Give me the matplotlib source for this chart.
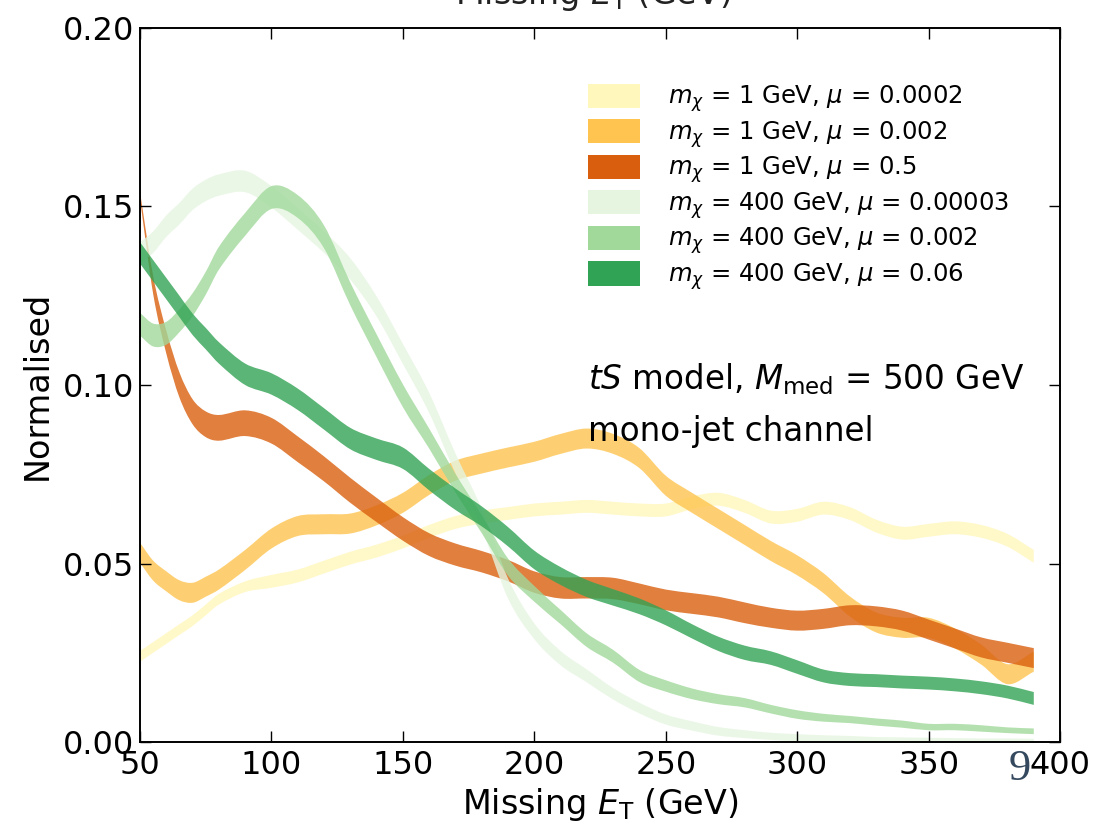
import matplotlib
matplotlib.use("Agg")
import matplotlib.pyplot as plt
from matplotlib.patches import Patch, PathPatch
from matplotlib.path import Path
import numpy as np

# Missing transverse energy bin centres (GeV)
met = [50, 55, 60, 65, 70, 75, 80, 90, 100, 110, 120, 130, 140, 150, 160, 170,
       180, 190, 200, 210, 220, 230, 240, 250, 260, 270, 280, 290, 300, 310,
       320, 330, 340, 350, 360, 370, 380, 390]

# Normalised distributions (band centres)
m1_mu0p0002 = [0.024, 0.0265, 0.029, 0.0315, 0.034, 0.037, 0.040, 0.0435, 0.045, 0.0465,
               0.049, 0.0515, 0.0535, 0.056, 0.059, 0.0615, 0.063, 0.064, 0.065, 0.0655,
               0.066, 0.0655, 0.065, 0.065, 0.067, 0.068, 0.066, 0.063, 0.0635, 0.0655,
               0.064, 0.0605, 0.0585, 0.0593, 0.060, 0.059, 0.0565, 0.052]
m1_mu0p002 = [0.053, 0.048, 0.045, 0.0425, 0.0418, 0.0435, 0.0455, 0.051, 0.057, 0.0605,
              0.061, 0.0612, 0.0635, 0.067, 0.072, 0.076, 0.078, 0.0797, 0.0813, 0.0835,
              0.085, 0.0835, 0.0795, 0.0718, 0.067, 0.0625, 0.058, 0.0535, 0.0495, 0.0445,
              0.038, 0.0335, 0.032, 0.032, 0.029, 0.0245, 0.019, 0.0225]
m1_mu0p5 = [0.153, 0.128, 0.112, 0.100, 0.0925, 0.089, 0.088, 0.0893, 0.0872, 0.082,
            0.0765, 0.0705, 0.065, 0.0597, 0.0553, 0.0525, 0.0505, 0.048, 0.0448, 0.0432,
            0.0432, 0.043, 0.0415, 0.0398, 0.0388, 0.0378, 0.0362, 0.0348, 0.034, 0.0345,
            0.0355, 0.0352, 0.034, 0.0315, 0.029, 0.0265, 0.025, 0.0235]
m400_mu0p00003 = [0.137, 0.140, 0.1445, 0.148, 0.152, 0.1545, 0.156, 0.157, 0.1527, 0.1465,
                  0.140, 0.1325, 0.122, 0.1087, 0.095, 0.078, 0.0625, 0.043, 0.031, 0.0235,
                  0.0185, 0.0135, 0.0095, 0.0063, 0.0045, 0.003, 0.0022, 0.0016, 0.0012, 0.001,
                  0.0008, 0.0006, 0.0005, 0.0004, 0.0003, 0.0002, 0.0002, 0.0001]
m400_mu0p002 = [0.117, 0.114, 0.1145, 0.118, 0.1225, 0.1285, 0.1355, 0.145, 0.1525, 0.150,
                0.1415, 0.1255, 0.111, 0.097, 0.085, 0.0725, 0.061, 0.049, 0.0415, 0.035,
                0.0285, 0.024, 0.0185, 0.0157, 0.0135, 0.012, 0.011, 0.0092, 0.0077, 0.0068,
                0.0063, 0.0056, 0.005, 0.0042, 0.0042, 0.0038, 0.0033, 0.003]
m400_mu0p06 = [0.137, 0.132, 0.127, 0.122, 0.117, 0.113, 0.109, 0.103, 0.1003, 0.096,
               0.0905, 0.085, 0.082, 0.0795, 0.0735, 0.068, 0.0632, 0.0575, 0.051, 0.0465,
               0.043, 0.0405, 0.038, 0.0348, 0.031, 0.0275, 0.025, 0.0235, 0.021, 0.0185,
               0.0175, 0.0172, 0.0168, 0.0165, 0.016, 0.0152, 0.014, 0.0122]

# Half-widths of the uncertainty bands
m1_mu0p0002_err = [0.0015] * 8 + [0.0018] * 30
m1_mu0p002_err = [0.0028] * 38
m1_mu0p5_err = [0.001, 0.0025, 0.0032, 0.0035, 0.0035, 0.0036, 0.0036, 0.0036, 0.0036, 0.0036,
                0.0035, 0.0035, 0.0034, 0.0033, 0.0032, 0.0031, 0.003, 0.003, 0.003, 0.003,
                0.003, 0.003, 0.0029, 0.0029, 0.0029, 0.0029, 0.0029, 0.0028, 0.0028, 0.0028,
                0.0028, 0.0028, 0.0028, 0.0028, 0.0028, 0.0028, 0.0028, 0.0028]
m400_mu0p00003_err = [0.003] * 12 + [0.0028] * 6 + [0.0022, 0.002, 0.0018, 0.0016, 0.0015,
                      0.0014, 0.0013, 0.0012, 0.0011, 0.001, 0.001, 0.0009, 0.0009, 0.0008,
                      0.0008, 0.0008, 0.0008, 0.0008, 0.0008, 0.0008]
m400_mu0p002_err = [0.0032] * 14 + [0.0028, 0.0026, 0.0025, 0.0024, 0.0022, 0.002, 0.0019,
                    0.0018, 0.0017, 0.0016, 0.0015, 0.0014, 0.0013, 0.0012, 0.0012, 0.0011,
                    0.001, 0.001, 0.001, 0.0009, 0.0009, 0.0009, 0.0008, 0.0008]
m400_mu0p06_err = [0.003] * 16 + [0.0028, 0.0027, 0.0026, 0.0025, 0.0024, 0.0023, 0.0022,
                   0.0021, 0.002, 0.002, 0.002, 0.0019, 0.0019, 0.0018, 0.0018, 0.0018,
                   0.0018, 0.0018, 0.0018, 0.0018, 0.0018, 0.0018]

labels = [
    r"$m_\chi$ = 1 GeV, $\mu$ = 0.0002",
    r"$m_\chi$ = 1 GeV, $\mu$ = 0.002",
    r"$m_\chi$ = 1 GeV, $\mu$ = 0.5",
    r"$m_\chi$ = 400 GeV, $\mu$ = 0.00003",
    r"$m_\chi$ = 400 GeV, $\mu$ = 0.002",
    r"$m_\chi$ = 400 GeV, $\mu$ = 0.06",
]
colors = ["#fff7bc", "#fec44f", "#d95f0e", "#e5f5e0", "#a1d99b", "#31a354"]
series = [m1_mu0p0002, m1_mu0p002, m1_mu0p5, m400_mu0p00003, m400_mu0p002, m400_mu0p06]
errors = [m1_mu0p0002_err, m1_mu0p002_err, m1_mu0p5_err, m400_mu0p00003_err,
          m400_mu0p002_err, m400_mu0p06_err]


def bezier_segments(xs, ys):
    """Cubic Bezier control points of a smooth curve passing through (xs, ys)."""
    n = len(xs)
    slope = np.empty(n)
    slope[0] = (ys[1] - ys[0]) / (xs[1] - xs[0])
    slope[-1] = (ys[-1] - ys[-2]) / (xs[-1] - xs[-2])
    slope[1:-1] = (ys[2:] - ys[:-2]) / (xs[2:] - xs[:-2])
    verts = []
    for i in range(n - 1):
        h = xs[i + 1] - xs[i]
        verts.append((xs[i] + h / 3, ys[i] + slope[i] * h / 3))
        verts.append((xs[i + 1] - h / 3, ys[i + 1] - slope[i + 1] * h / 3))
        verts.append((xs[i + 1], ys[i + 1]))
    return verts


def band_path(xs, lo, hi):
    verts = [(xs[0], hi[0])] + bezier_segments(xs, hi)
    codes = [Path.MOVETO] + [Path.CURVE4] * (3 * (len(xs) - 1))
    verts.append((xs[-1], lo[-1]))
    codes.append(Path.LINETO)
    verts += bezier_segments(xs[::-1], lo[::-1])
    codes += [Path.CURVE4] * (3 * (len(xs) - 1))
    verts.append((xs[0], hi[0]))
    codes.append(Path.CLOSEPOLY)
    return Path(verts, codes)


plt.rcParams["font.family"] = ["DejaVu Sans"]
plt.rcParams["mathtext.fontset"] = "dejavusans"

fig = plt.figure(figsize=(11.0, 8.23), dpi=100)
ax = fig.add_axes([0.1273, 0.0984, 0.8364, 0.8676])

x = np.array(met, dtype=float)
for vals, errs, col in zip(series, errors, colors):
    c = np.array(vals)
    e = np.array(errs)
    ax.add_patch(PathPatch(band_path(x, c - e, c + e), facecolor=col, alpha=0.8,
                           edgecolor="none", linewidth=0))

ax.set_xlim(50, 400)
ax.set_ylim(0, 0.20)
ax.set_xticks([50, 100, 150, 200, 250, 300, 350, 400])
ax.set_yticks([0.00, 0.05, 0.10, 0.15, 0.20])
ax.set_yticklabels(["0.00", "0.05", "0.10", "0.15", "0.20"])
ax.tick_params(direction="in", top=True, right=True, length=8, width=1,
               labelsize=23, pad=4)
ax.tick_params(axis="x", pad=6)
for sp in ax.spines.values():
    sp.set_linewidth(1.4)

ax.set_xlabel(r"Missing $E_{\rm T}$ (GeV)", fontsize=24, labelpad=3)
ax.set_ylabel("Normalised", fontsize=24, labelpad=7)

handles = [Patch(facecolor=c, edgecolor="none") for c in colors]
ax.legend(handles, labels, loc="upper left", bbox_to_anchor=(0.476, 0.936),
          frameon=False, fontsize=17.5, handlelength=2.14, handleheight=1.15,
          handletextpad=1.15, labelspacing=0.2, borderaxespad=0.0)

ax.text(0.487, 0.494, r"$tS$ model, $M_{\rm med}$ = 500 GeV", transform=ax.transAxes,
        fontsize=23.5, ha="left", va="baseline")
ax.text(0.487, 0.421, "mono-jet channel", transform=ax.transAxes,
        fontsize=23.5, ha="left", va="baseline")

# Upper panel's axis title, running off the top edge
fig.text(0.539, 0.995, r"Missing $E_{\rm T}$ (GeV)", fontsize=24, ha="center",
         va="baseline", color="#222222")
# Page number
fig.text(0.927, 0.052, "9", fontsize=32, family=["Liberation Serif", "DejaVu Serif"],
         color="#34495e", ha="center", va="baseline")

fig.savefig("out.png", dpi=100)
